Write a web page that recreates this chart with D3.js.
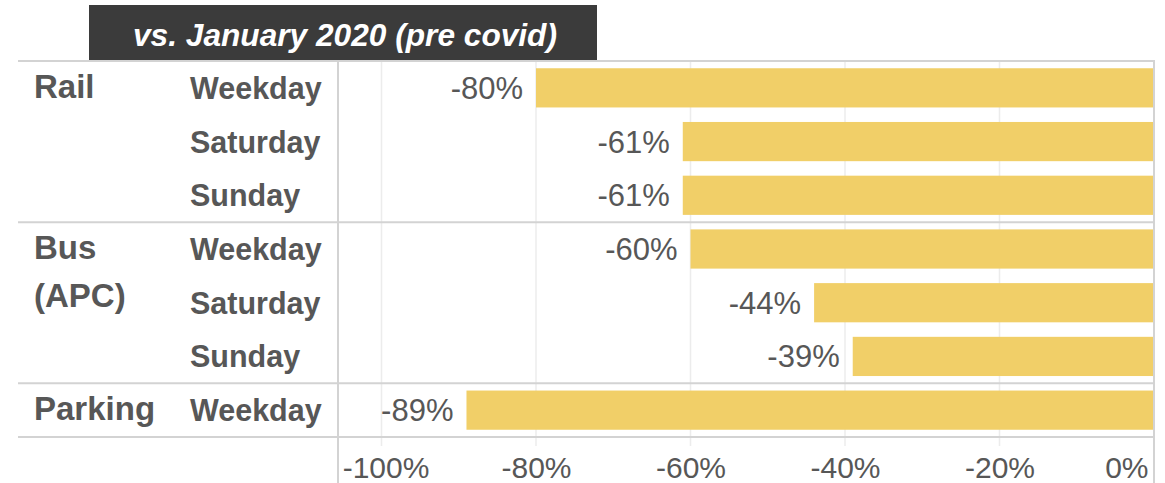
<!DOCTYPE html>
<html>
<head>
<meta charset="utf-8">
<script src="https://cdn.jsdelivr.net/npm/d3@7"></script>
<style>
  body { margin: 0; background: #fff; }
  svg text { font-family: "Liberation Sans", Arial, sans-serif; }
</style>
</head>
<body>
<div class="chart"></div>
<script>
// data
const groups = ["Rail", "Rail", "Rail", "Bus", "Bus", "Bus", "Parking"];
const days = ["Weekday", "Saturday", "Sunday", "Weekday", "Saturday", "Sunday", "Weekday"];
const changes = [-0.80, -0.61, -0.61, -0.60, -0.44, -0.39, -0.89];
const ticks = [-1, -0.8, -0.6, -0.4, -0.2, 0];
const groupLabels = [
  {row: 0, lines: ["Rail"]},
  {row: 3, lines: ["Bus", "(APC)"]},
  {row: 6, lines: ["Parking"]}
];
const title = "vs. January 2020 (pre covid)";

const W = 1165, H = 483;
const rows = d3.range(changes.length);

// plain hyphen for negatives, like the original
const pct = d3.formatLocale({decimal: '.', thousands: ',', grouping: [3], currency: ['$', ''], minus: '-'}).format('.0%');

const svg = d3.select('.chart')
  .append('svg')
  .attr('width', W)
  .attr('height', H);

const x = d3.scaleLinear()
  .domain([-1, 0])
  .range([381.5, 1154]);

const y = d3.scaleBand()
  .domain(rows)
  .range([61, 437])
  .paddingInner(0.27)
  .paddingOuter(0.135);

const grey = '#575757';
const lineCol = '#d3d3d3';

// title box
svg.append('rect')
  .attr('x', 89).attr('y', 5)
  .attr('width', 508).attr('height', 55)
  .attr('fill', '#3b3b3b');
svg.append('text')
  .attr('x', 345).attr('y', 46)
  .attr('text-anchor', 'middle')
  .attr('fill', '#fff')
  .attr('font-size', 31)
  .attr('font-weight', 'bold')
  .attr('font-style', 'italic')
  .attr('textLength', 424)
  .attr('lengthAdjust', 'spacingAndGlyphs')
  .text(title);

// gridlines (light) at each tick
svg.append('g')
  .selectAll('line')
  .data(ticks.slice(0, -1))
  .join('line')
  .attr('x1', d => x(d)).attr('x2', d => x(d))
  .attr('y1', 61).attr('y2', 446)
  .attr('stroke', '#ececec')
  .attr('stroke-width', 1.5);

// bars
svg.append('g')
  .selectAll('rect')
  .data(rows)
  .join('rect')
  .attr('x', i => x(changes[i]))
  .attr('y', i => y(i))
  .attr('width', i => x(0) - x(changes[i]))
  .attr('height', y.bandwidth())
  .attr('fill', '#f1cf68');

// value labels
svg.append('g')
  .selectAll('text')
  .data(rows)
  .join('text')
  .attr('x', i => x(changes[i]) - 13)
  .attr('y', i => y(i) + y.bandwidth() / 2 + 11)
  .attr('text-anchor', 'end')
  .attr('font-size', 31)
  .attr('fill', grey)
  .text(i => pct(changes[i]));

// row labels
svg.append('g')
  .selectAll('text')
  .data(rows)
  .join('text')
  .attr('x', 190)
  .attr('y', i => y(i) + y.bandwidth() / 2 + 11)
  .attr('font-size', 30.5)
  .attr('font-weight', 'bold')
  .attr('fill', grey)
  .text(i => days[i]);

// group labels
groupLabels.forEach(g => {
  g.lines.forEach((t, k) => {
    svg.append('text')
      .attr('x', 34)
      .attr('y', y(g.row + k) + y.bandwidth() / 2 + (k === 0 ? 10 : 4))
      .attr('font-size', 33)
      .attr('font-weight', 'bold')
      .attr('fill', grey)
      .text(t);
  });
});

// group separators
const seps = [0, 3, 6, 7];
svg.append('g')
  .selectAll('line')
  .data(seps)
  .join('line')
  .attr('x1', 18).attr('x2', 1155)
  .attr('y1', r => r < 7 ? y(r) - y.step() * y.paddingInner() / 2 : 437)
  .attr('y2', r => r < 7 ? y(r) - y.step() * y.paddingInner() / 2 : 437)
  .attr('stroke', lineCol)
  .attr('stroke-width', 2);

// vertical frame lines
svg.append('line')
  .attr('x1', 338).attr('x2', 338)
  .attr('y1', 61).attr('y2', H)
  .attr('stroke', lineCol).attr('stroke-width', 2);
svg.append('line')
  .attr('x1', x(0)).attr('x2', x(0))
  .attr('y1', 61).attr('y2', H)
  .attr('stroke', lineCol).attr('stroke-width', 2);

// x axis
const xAxis = d3.axisBottom(x)
  .tickValues(ticks)
  .tickFormat(pct)
  .tickSize(0)
  .tickPadding(0);

const ax = svg.append('g')
  .attr('class', 'axis x-axis')
  .attr('transform', 'translate(0,478)')
  .call(xAxis);
ax.select('.domain').remove();
ax.selectAll('text')
  .attr('font-size', 30)
  .attr('fill', grey)
  .attr('dy', 0)
  .attr('text-anchor', (d, i) => i === ticks.length - 1 ? 'end' : 'middle')
  .attr('dx', (d, i) => i === 0 ? 4 : (i === ticks.length - 1 ? -6 : 0));
</script>
</body>
</html>
